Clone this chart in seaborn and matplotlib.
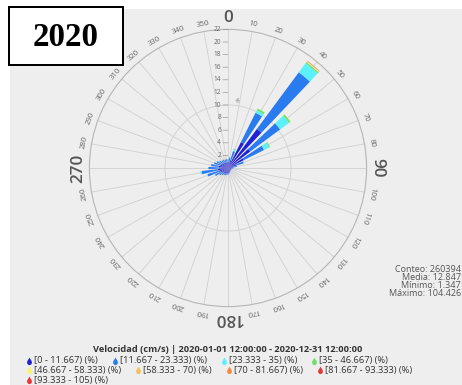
import numpy as np
import matplotlib
matplotlib.use("Agg")
import matplotlib.pyplot as plt
import seaborn as sns
from matplotlib.path import Path
from matplotlib.patches import Rectangle

# ---- data: percentage of records per direction (deg) and speed class ----
directions = list(range(0, 360, 10))

speed_bins = [
    "[0 - 11.667) (%)", "[11.667 - 23.333) (%)", "[23.333 - 35) (%)",
    "[35 - 46.667) (%)", "[46.667 - 58.333) (%)", "[58.333 - 70) (%)",
    "[70 - 81.667) (%)", "[81.667 - 93.333) (%)", "[93.333 - 105) (%)",
]

pct_0_11 = [0.9, 1.0, 1.3, 4.6, 7.7, 4.4, 2.8, 1.4, 0.9, 0.6, 0.5, 0.5,
            0.5, 0.5, 0.5, 0.6, 0.7, 0.8, 0.9, 0.9, 1.0, 1.0, 1.0, 1.1,
            1.3, 1.5, 1.7, 1.5, 1.5, 1.3, 1.2, 1.1, 1.0, 1.0, 0.9, 0.9]
pct_11_23 = [0.5, 0.7, 1.5, 5.2, 11.2, 5.9, 3.6, 1.2, 0.5, 0.3, 0.2, 0.1,
             0.1, 0.1, 0.1, 0.1, 0.1, 0.1, 0.2, 0.2, 0.2, 0.3, 0.4, 0.6,
             1.0, 1.9, 2.5, 1.6, 1.2, 1.0, 0.8, 0.6, 0.5, 0.5, 0.5, 0.5]
pct_23_35 = [0, 0.05, 0.3, 0.45, 1.8, 1.75, 0.9, 0.1, 0, 0, 0, 0,
             0, 0, 0, 0, 0, 0, 0, 0, 0, 0, 0, 0,
             0, 0.1, 0.2, 0, 0, 0, 0, 0, 0, 0, 0, 0]
pct_35_46 = [0, 0, 0.1, 0.3, 0.22, 0.3, 0.15, 0, 0, 0, 0, 0,
             0, 0, 0, 0, 0, 0, 0, 0, 0, 0, 0, 0,
             0, 0, 0, 0, 0, 0, 0, 0, 0, 0, 0, 0]
pct_46_58 = [0, 0, 0, 0.03, 0.1, 0.05, 0, 0, 0, 0, 0, 0,
             0, 0, 0, 0, 0, 0, 0, 0, 0, 0, 0, 0,
             0, 0, 0, 0, 0, 0, 0, 0, 0, 0, 0, 0]
pct_58_70 = [0, 0, 0, 0, 0.08, 0, 0, 0, 0, 0, 0, 0,
             0, 0, 0, 0, 0, 0, 0, 0, 0, 0, 0, 0,
             0, 0, 0, 0, 0, 0, 0, 0, 0, 0, 0, 0]
pct_70_81 = [0, 0, 0, 0, 0.04, 0, 0, 0, 0, 0, 0, 0,
             0, 0, 0, 0, 0, 0, 0, 0, 0, 0, 0, 0,
             0, 0, 0, 0, 0, 0, 0, 0, 0, 0, 0, 0]
pct_81_93 = [0, 0, 0, 0, 0.02, 0, 0, 0, 0, 0, 0, 0,
             0, 0, 0, 0, 0, 0, 0, 0, 0, 0, 0, 0,
             0, 0, 0, 0, 0, 0, 0, 0, 0, 0, 0, 0]
pct_93_105 = [0, 0, 0, 0, 0.01, 0, 0, 0, 0, 0, 0, 0,
              0, 0, 0, 0, 0, 0, 0, 0, 0, 0, 0, 0,
              0, 0, 0, 0, 0, 0, 0, 0, 0, 0, 0, 0]

series = [pct_0_11, pct_11_23, pct_23_35, pct_35_46, pct_46_58,
          pct_58_70, pct_70_81, pct_81_93, pct_93_105]

radial_ticks = list(range(2, 23, 2))
stats_lines = ["Conteo: 260394", "Media: 12.847", "Mínimo: 1.347", "Máximo: 104.426"]
legend_title = "Velocidad (cm/s) | 2020-01-01 12:00:00 - 2020-12-31 12:00:00"
year_label = "2020"

colors = sns.color_palette(["#2020d4", "#2a7af0", "#5cf0fa", "#6ee06a", "#f7f76e",
                            "#f3c257", "#f08a45", "#e63a3a", "#ee3535"])

sns.set_style("white")
plt.rcParams["font.family"] = ["Open Sans", "DejaVu Sans"]

W, H = 462, 385
fig = plt.figure(figsize=(W / 72, H / 72), dpi=72, facecolor="white")

# pixel-space layer for background, boxes and legend
bg = fig.add_axes([0, 0, 1, 1], zorder=0)
bg.set_xlim(0, W)
bg.set_ylim(H, 0)
bg.axis("off")
bg.add_patch(Rectangle((10, 9), W - 10, H - 9, facecolor="#eeeeee", edgecolor="none"))

# ---- wind rose ----
cx, cy, R = 228, 168, 138.6
ax = fig.add_axes([(cx - R) / W, (H - cy - R) / H, 2 * R / W, 2 * R / H],
                  projection="polar", zorder=1)
ax.set_facecolor("none")
ax.set_theta_zero_location("N")
ax.set_theta_direction(-1)
ax.set_ylim(0, 22)

theta = np.deg2rad(directions)
base = np.zeros(len(directions))
for vals, col in zip(series, colors):
    v = np.asarray(vals, dtype=float)
    ax.bar(theta, v, width=np.deg2rad(7.0), bottom=base, color=col,
           edgecolor="none", zorder=3)
    base += v

ax.set_xticks(theta)
ax.set_xticklabels([])
ax.set_yticks([10])
ax.set_yticklabels([])
ax.tick_params(length=0)
ax.grid(True, color="#d2d2d2", lw=0.9)
ax.spines["polar"].set_color("#b5b5b5")
ax.spines["polar"].set_linewidth(1.1)

for a in directions:
    cardinal = a % 90 == 0
    ax.text(np.deg2rad(a), 23.75 if cardinal else 23.2, str(a),
            rotation=-a, rotation_mode="anchor", ha="center", va="center",
            fontsize=17 if cardinal else 7.8,
            fontweight="semibold" if cardinal else "normal",
            color="#555555" if cardinal else "#666666", clip_on=False)

for r in radial_ticks:
    ax.annotate("", xy=(0, r), xytext=(-5, 0), textcoords="offset points",
                arrowprops=dict(arrowstyle="-", color="#999999", lw=0.7,
                                shrinkA=0, shrinkB=0))
    ax.annotate(str(r), xy=(0, r), xytext=(-7, 0), textcoords="offset points",
                ha="right", va="center", fontsize=6.5, color="#666666")
ax.annotate("%", xy=(0, 10.8), xytext=(8, 0), textcoords="offset points",
            ha="center", va="center", fontsize=5.5, color="#777777", rotation=-60)

# ---- year box ----
bg.add_patch(Rectangle((9, 7), 114, 58, facecolor="white", edgecolor="black", lw=2, zorder=5))
bg.text(66, 37, year_label, fontsize=33, fontweight="bold", family="Liberation Serif",
        ha="center", va="center", color="black", zorder=6)

# ---- statistics ----
for i, line in enumerate(stats_lines):
    bg.text(461, 270 + 8 * i, line, fontsize=9, color="#555555",
            ha="right", va="center")

# ---- legend: items flow left to right, four per row ----
drop = Path(
    [(0, 1), (0.15, 0.6), (0.6, 0.2), (0.6, -0.25),
     (0.6, -0.65), (0.3, -0.9), (0, -0.9),
     (-0.3, -0.9), (-0.6, -0.65), (-0.6, -0.25),
     (-0.6, 0.2), (-0.15, 0.6), (0, 1), (0, 1)],
    [Path.MOVETO] + [Path.CURVE4] * 12 + [Path.CLOSEPOLY])

bg.text(228, 349, legend_title, fontsize=9.2, fontweight="bold", color="#333333",
        ha="center", va="center")

renderer = fig.canvas.get_renderer()
legend_y = [361, 370.5, 380]
items_per_row = 4
x0, sym_pad, item_gap = 29, 5, 17
x = x0
for k, label in enumerate(speed_bins):
    row = k // items_per_row
    if k % items_per_row == 0:
        x = x0
    y = legend_y[row]
    bg.plot([x], [y - 0.5], marker=drop, markersize=8, color=colors[k],
            markeredgewidth=0, zorder=4)
    t = bg.text(x + sym_pad, y, label, fontsize=9.2, color="#333333",
                ha="left", va="center")
    w = t.get_window_extent(renderer=renderer).width
    x = x + sym_pad + w + item_gap

fig.savefig("out.png", dpi=72, facecolor="white")
